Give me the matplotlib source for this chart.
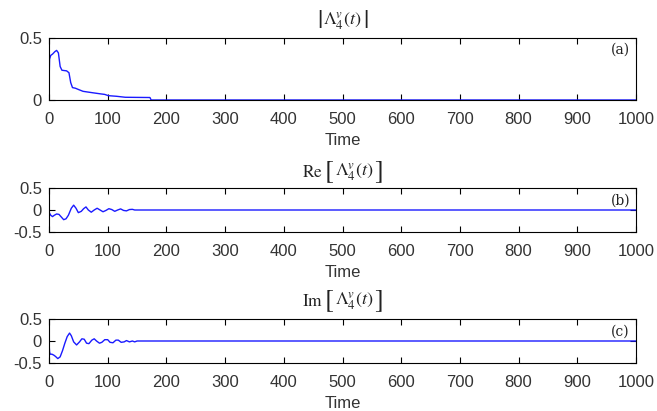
import numpy as np
import matplotlib.pyplot as plt

plt.rcParams['mathtext.fontset'] = 'stix'
plt.rcParams['font.family'] = ['Liberation Sans', 'DejaVu Sans']

# |Lambda_4^v(t)|
t_abs = [0, 1, 3, 6, 10, 13, 16, 19, 22, 30, 34, 37, 40, 45, 50, 58, 65, 75, 87, 95, 101, 115, 130, 150, 172, 174, 200, 1000]
v_abs = [0.13, 0.33, 0.36, 0.37, 0.39, 0.40, 0.38, 0.27, 0.24, 0.235, 0.22, 0.14, 0.10, 0.095, 0.085, 0.07, 0.065, 0.058, 0.05, 0.045, 0.035, 0.03, 0.022, 0.021, 0.02, 0.0, 0.0, 0.0]

# Re[Lambda_4^v(t)]
t_re = [0, 3, 6, 9, 13, 17, 21, 25, 29, 33, 38, 42, 46, 50, 55, 59, 63, 67, 72, 77, 82, 87, 92, 97, 102, 107, 112, 117, 122, 127, 132, 137, 142, 146, 150, 1000]
v_re = [-0.05, -0.12, -0.15, -0.12, -0.09, -0.1, -0.16, -0.22, -0.2, -0.12, 0.04, 0.11, 0.04, -0.06, -0.03, 0.03, 0.07, 0.0, -0.05, 0.0, 0.04, 0.0, -0.04, -0.01, 0.03, 0.01, -0.03, 0.0, 0.025, -0.01, -0.02, 0.01, 0.015, 0.0, 0.0, 0.0]

# Im[Lambda_4^v(t)]
t_im = [0, 1, 2, 5, 8, 11, 15, 19, 23, 27, 31, 35, 38, 42, 47, 52, 56, 60, 64, 68, 73, 77, 81, 86, 90, 95, 100, 104, 109, 114, 118, 123, 128, 132, 137, 142, 146, 150, 1000]
v_im = [-0.05, -0.25, -0.3, -0.3, -0.32, -0.35, -0.4, -0.36, -0.22, -0.05, 0.1, 0.18, 0.12, -0.02, -0.09, -0.02, 0.05, 0.04, -0.05, -0.06, 0.02, 0.05, 0.0, -0.05, -0.03, 0.03, 0.03, -0.03, -0.04, 0.02, 0.02, -0.03, -0.02, 0.01, -0.02, 0.0, -0.02, 0.0, 0.0]

# titles as pieces: (text, fontsize) laid out side by side
core = r'$\Lambda_4^{v}(t)$'
titles = [[(r'$|$', 19), (core, 13), (r'$|$', 19)],
          [(r'$\mathrm{Re}$', 12.5), (r'$[$', 19), (core, 13), (r'$]$', 19)],
          [(r'$\mathrm{Im}$', 12.5), (r'$[$', 19), (core, 13), (r'$]$', 19)]]
title_y = [21, 172, 301]
panel_tags = ['(a)', '(b)', '(c)']
tag_y = [50, 201, 332]
xticks = [0, 100, 200, 300, 400, 500, 600, 700, 800, 900, 1000]

fig = plt.figure(figsize=(6.57, 4.11), dpi=100)
W, H = 657, 411
# axes boxes in pixels: left, top, right, bottom
boxes = [(49, 38, 636, 100), (49, 188, 636, 232), (49, 319, 636, 363)]
data = [(t_abs, v_abs), (t_re, v_re), (t_im, v_im)]
ylims = [(0, 0.5), (-0.5, 0.5), (-0.5, 0.5)]
yticks = [[0, 0.5], [-0.5, 0, 0.5], [-0.5, 0, 0.5]]
yticklabels = [['0', '0.5'], ['-0.5', '0', '0.5'], ['-0.5', '0', '0.5']]

renderer = fig.canvas.get_renderer()

for i in range(3):
    l, t, r, b = boxes[i]
    ax = fig.add_axes([l / W, 1 - b / H, (r - l) / W, (b - t) / H])
    x, y = data[i]
    ax.plot(x, y, color='#1a1aff', lw=1.0)
    ax.set_xlim(0, 1000)
    ax.set_ylim(*ylims[i])
    ax.set_xticks(xticks)
    ax.set_yticks(yticks[i])
    ax.set_yticklabels(yticklabels[i])
    ax.tick_params(direction='in', top=True, right=True, length=4,
                   labelsize=12, labelcolor='#333333')
    ax.tick_params(axis='x', pad=8.5)
    ax.tick_params(axis='y', pad=5)
    ax.set_xlabel('Time', fontsize=12, color='#333333', labelpad=4.5)
    for s in ax.spines.values():
        s.set_linewidth(0.8)
    ax.text((r - 6) / W, 1 - tag_y[i] / H, panel_tags[i], transform=fig.transFigure,
            ha='right', va='center', fontsize=10, family='serif', color='#222222')

    # title pieces, centred over the axes
    pieces = []
    for s, fs in titles[i]:
        tx = fig.text(0, 1 - title_y[i] / H, s, fontsize=fs, va='center', ha='left', color='#222222')
        pieces.append(tx)
    widths = [p.get_window_extent(renderer).width for p in pieces]
    gap = 1.0
    total = sum(widths) + gap * (len(widths) - 1)
    xpos = (l + r) / 2 - total / 2
    for p, w in zip(pieces, widths):
        p.set_x(xpos / W)
        xpos += w + gap

fig.savefig('out.png', dpi=100)
